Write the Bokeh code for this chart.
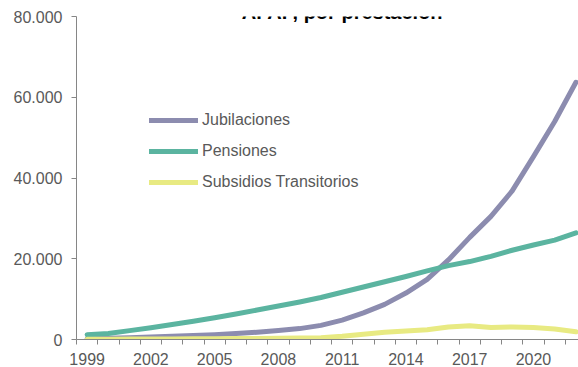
from bokeh.plotting import figure
from bokeh.models import FixedTicker, Legend, LegendItem, Label, Range1d, ColumnDataSource
from bokeh.embed import file_html
from bokeh.resources import INLINE

years = list(range(1999, 2023))
jubilaciones = [200, 300, 450, 600, 800, 1000, 1200, 1500, 1800, 2200, 2700, 3500,
                4800, 6600, 8700, 11500, 14900, 19700, 25300, 30500, 36800, 45300, 54000, 63700]
pensiones = [1200, 1500, 2200, 2900, 3700, 4500, 5400, 6300, 7300, 8300, 9300, 10400,
             11700, 13000, 14300, 15600, 17000, 18300, 19300, 20600, 22100, 23400, 24600, 26400]
subsidios = [50, 80, 100, 120, 150, 180, 200, 220, 250, 280, 350, 450,
             800, 1300, 1800, 2100, 2400, 3100, 3400, 3000, 3100, 3000, 2600, 1900]
series_names = ["Jubilaciones", "Pensiones", "Subsidios Transitorios"]
series_colors = ["#8C8CAF", "#5BB4A0", "#E8EA82"]
y_ticks = [0, 20000, 40000, 60000, 80000]
y_tick_labels = ["0", "20.000", "40.000", "60.000", "80.000"]
x_label_years = [1999, 2002, 2005, 2008, 2011, 2014, 2017, 2020]
title_text = "AFAP, por prestación"

FONT = "Liberation Sans"
TXT = "#595959"
AXC = "#868686"

p = figure(width=578, height=367, output_backend="svg", toolbar_location=None,
           x_range=Range1d(1998.5, 2022.12), y_range=Range1d(0, 80000),
           min_border_left=76, min_border_right=0, min_border_top=16, min_border_bottom=27)
p.xgrid.visible = False
p.ygrid.visible = False
p.outline_line_color = None
p.background_fill_color = "white"
p.border_fill_color = "white"

src = ColumnDataSource(dict(year=years, jub=jubilaciones, pen=pensiones, sub=subsidios))
renderers = []
for col, color in zip(["jub", "pen", "sub"], series_colors):
    r = p.line("year", col, source=src, line_color=color, line_width=5,
               line_cap="round", line_join="round")
    renderers.append(r)

legend = Legend(items=[LegendItem(label=n, renderers=[r]) for n, r in zip(series_names, renderers)],
                location=(73, 147), border_line_color=None, background_fill_alpha=0,
                glyph_width=49, glyph_height=20, spacing=11, padding=0, margin=0,
                label_standoff=4, label_text_font=FONT, label_text_font_size="16px",
                label_text_color=TXT)
p.add_layout(legend)

# x axis: labels at category centres, tick marks between categories
p.xaxis.ticker = FixedTicker(ticks=x_label_years,
                             minor_ticks=[y - 0.5 for y in years] + [years[-1] + 0.5])
p.xaxis.major_label_overrides = {y: str(y) for y in x_label_years}
p.xaxis.major_tick_out = 0
p.xaxis.major_tick_in = 0
p.xaxis.minor_tick_out = 5
p.xaxis.minor_tick_in = 0
p.xaxis.minor_tick_line_color = AXC
p.xaxis.axis_line_color = AXC
p.xaxis.major_label_standoff = 8
p.xaxis.major_label_text_font = FONT
p.xaxis.major_label_text_font_size = "16px"
p.xaxis.major_label_text_color = TXT

# y axis
p.yaxis.ticker = FixedTicker(ticks=y_ticks)
p.yaxis.major_label_overrides = {t: l for t, l in zip(y_ticks, y_tick_labels)}
p.yaxis.major_tick_out = 5
p.yaxis.major_tick_in = 0
p.yaxis.minor_tick_out = 0
p.yaxis.minor_tick_in = 0
p.yaxis.major_tick_line_color = AXC
p.yaxis.axis_line_color = AXC
p.yaxis.major_label_standoff = 9
p.yaxis.major_label_text_font = FONT
p.yaxis.major_label_text_font_size = "16px"
p.yaxis.major_label_text_color = TXT

title = Label(x=2011.0, y=81235, text=title_text, text_align="center", text_baseline="alphabetic",
              text_font=FONT, text_font_size="20px", text_font_style="bold", text_color="black")
p.add_layout(title)

open("out.html", "w").write(file_html(p, INLINE))
